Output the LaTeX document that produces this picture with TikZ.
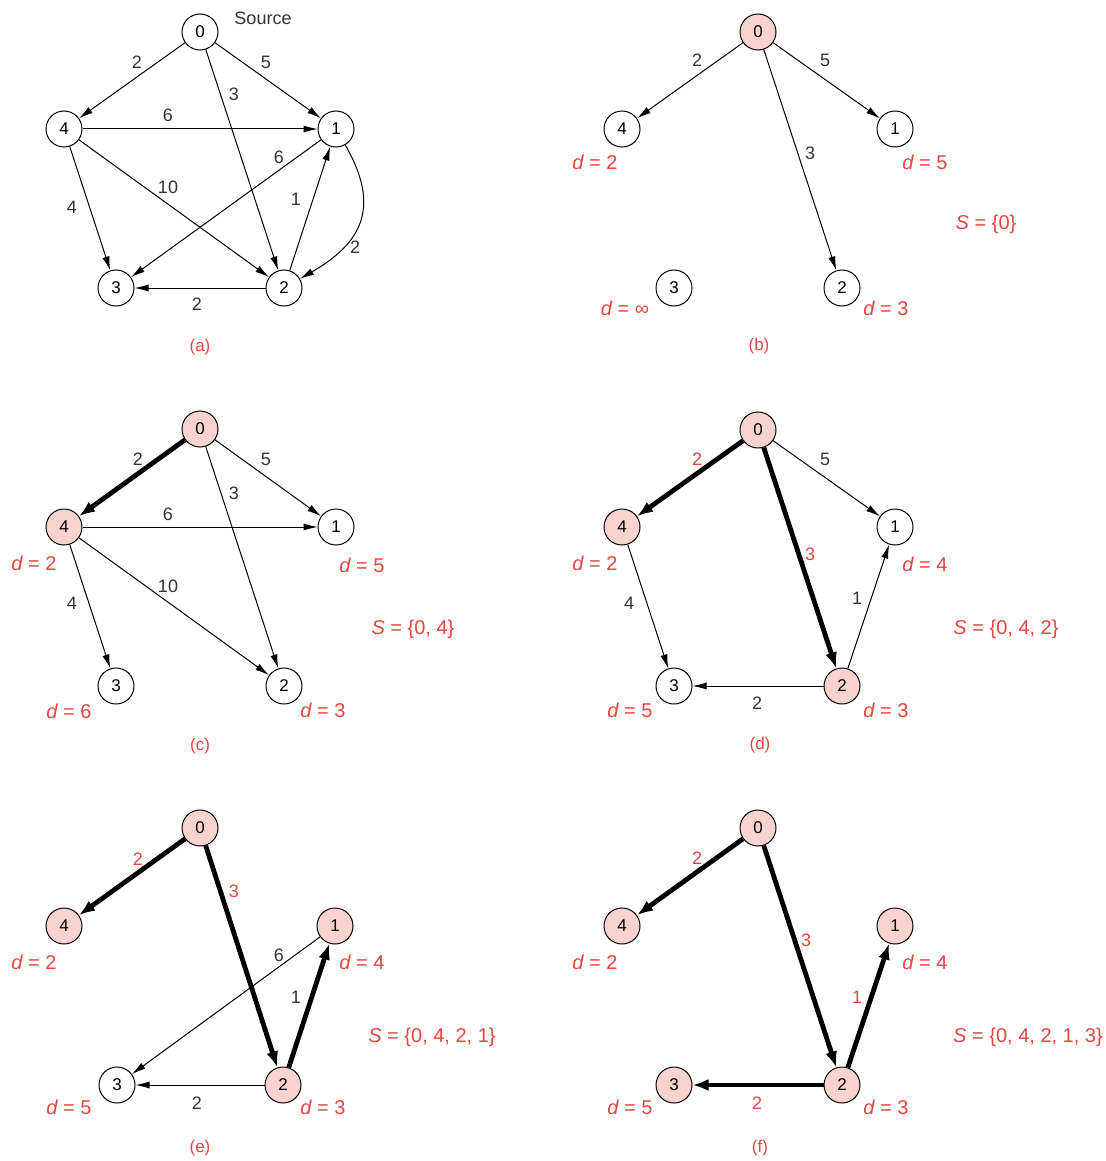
\documentclass[tikz,border=0pt]{standalone}
\usepackage{fontspec}
\setmainfont{Liberation Sans}
\usetikzlibrary{arrows.meta}
\definecolor{dijred}{HTML}{E8453F}
\definecolor{dijfill}{HTML}{FBD3CE}
\definecolor{wtgray}{HTML}{333333}
\newcommand{\dlab}[1]{{\itshape d} = #1}
\newcommand{\slab}[1]{{\itshape S} = \{#1\}}

\begin{document}
\begin{tikzpicture}[x=0.5pt,y=-0.5pt,
  vtx/.style={draw,circle,line width=0.5pt,minimum size=18pt,inner sep=0pt,
              font=\fontsize{8.5}{9}\selectfont},
  done/.style={vtx,fill=dijfill},
  arr/.style={-{Latex[length=7pt,width=3.6pt]},line width=0.5pt},
  tree/.style={-{Latex[length=8pt,width=6pt]},line width=2.4pt},
  wt/.style={font=\fontsize{9}{10}\selectfont,text=wtgray,inner sep=1pt},
  rwt/.style={wt,text=dijred},
  dist/.style={font=\fontsize{10}{11}\selectfont,text=dijred,inner sep=0pt},
  capt/.style={font=\fontsize{8.5}{9}\selectfont,text=dijred}]
\useasboundingbox (0,0) rectangle (1106,1161);

% (a) the graph
\node[vtx] (a0) at (200,32) {0};
\node[vtx] (a4) at (64,129) {4};
\node[vtx] (a1) at (336,129) {1};
\node[vtx] (a3) at (116,288) {3};
\node[vtx] (a2) at (284,288) {2};
\node[wt] (src) at (263,18) {Source};
\draw[arr] (a0) -- (a4);
\draw[arr] (a0) -- (a1);
\draw[arr] (a0) -- (a2);
\draw[arr] (a4) -- (a1);
\draw[arr] (a4) -- (a2);
\draw[arr] (a4) -- (a3);
\draw[arr] (a1) -- (a3);
\draw[arr] (a2) -- (a1);
\draw[arr] (a1) to[out=-60,in=30,looseness=1.3] (a2);
\draw[arr] (a2) -- (a3);
\node[wt] at (137,62) {2};
\node[wt] at (266,62) {5};
\node[wt] at (234,94) {3};
\node[wt] at (168,115) {6};
\node[wt] at (279,157) {6};
\node[wt] at (168,187) {10};
\node[wt] at (72,207) {4};
\node[wt] at (296,199) {1};
\node[wt] at (355,247) {2};
\node[wt] at (197,304) {2};
\node[capt] (capa) at (200,347) {(a)};

% (b) S = {0}
\node[done] (b0) at (758,32) {0};
\node[vtx] (b4) at (622,129) {4};
\node[vtx] (b1) at (895,129) {1};
\node[vtx] (b3) at (674,288) {3};
\node[vtx] (b2) at (842,288) {2};
\draw[arr] (b0) -- (b4);
\draw[arr] (b0) -- (b1);
\draw[arr] (b0) -- (b2);
\node[wt] at (697,60) {2};
\node[wt] at (825,60) {5};
\node[wt] at (810,153) {3};
\node[dist] at (595,162) {\dlab{2}};
\node[dist] at (925,162) {\dlab{5}};
\node[dist] at (625,308) {\dlab{∞}};
\node[dist] at (886,308) {\dlab{3}};
\node[dist] at (986,224) {\slab{0}};
\node[capt] (capb) at (759,346) {(b)};

% (c) S = {0, 4}
\node[done] (c0) at (200,429) {0};
\node[done] (c4) at (64,527) {4};
\node[vtx] (c1) at (336,527) {1};
\node[vtx] (c3) at (116,686) {3};
\node[vtx] (c2) at (284,686) {2};
\draw[tree] (c0) -- (c4);
\draw[arr] (c0) -- (c1);
\draw[arr] (c0) -- (c2);
\draw[arr] (c4) -- (c1);
\draw[arr] (c4) -- (c2);
\draw[arr] (c4) -- (c3);
\node[wt] at (138,459) {2};
\node[wt] at (266,459) {5};
\node[wt] at (234,493) {3};
\node[wt] at (168,514) {6};
\node[wt] at (168,586) {10};
\node[wt] at (72,603) {4};
\node[dist] at (34,563) {\dlab{2}};
\node[dist] at (362,565) {\dlab{5}};
\node[dist] at (69,711) {\dlab{6}};
\node[dist] at (323,710) {\dlab{3}};
\node[dist] at (413,629) {\slab{0, 4}};
\node[capt] (capc) at (200,746) {(c)};

% (d) S = {0, 4, 2}
\node[done] (d0) at (758,430) {0};
\node[done] (d4) at (622,527) {4};
\node[vtx] (d1) at (895,527) {1};
\node[vtx] (d3) at (674,686) {3};
\node[done] (d2) at (842,686) {2};
\draw[tree] (d0) -- (d4);
\draw[tree] (d0) -- (d2);
\draw[arr] (d0) -- (d1);
\draw[arr] (d4) -- (d3);
\draw[arr] (d2) -- (d1);
\draw[arr] (d2) -- (d3);
\node[rwt] at (697,459) {2};
\node[wt] at (825,459) {5};
\node[rwt] at (810,554) {3};
\node[wt] at (629,603) {4};
\node[wt] at (857,598) {1};
\node[wt] at (757,703) {2};
\node[dist] at (595,563) {\dlab{2}};
\node[dist] at (925,564) {\dlab{4}};
\node[dist] at (630,710) {\dlab{5}};
\node[dist] at (886,710) {\dlab{3}};
\node[dist] at (1006,629) {\slab{0, 4, 2}};
\node[capt] (capd) at (760,745) {(d)};

% (e) S = {0, 4, 2, 1}
\node[done] (e0) at (200,828) {0};
\node[done] (e4) at (64,926) {4};
\node[done] (e1) at (335,926) {1};
\node[vtx] (e3) at (117,1085) {3};
\node[done] (e2) at (283,1085) {2};
\draw[tree] (e0) -- (e4);
\draw[tree] (e0) -- (e2);
\draw[tree] (e2) -- (e1);
\draw[arr] (e1) -- (e3);
\draw[arr] (e2) -- (e3);
\node[rwt] at (138,859) {2};
\node[rwt] at (234,891) {3};
\node[wt] at (279,955) {6};
\node[wt] at (296,997) {1};
\node[wt] at (197,1103) {2};
\node[dist] at (34,962) {\dlab{2}};
\node[dist] at (362,962) {\dlab{4}};
\node[dist] at (69,1107) {\dlab{5}};
\node[dist] at (323,1107) {\dlab{3}};
\node[dist] at (432,1037) {\slab{0, 4, 2, 1}};
\node[capt] (cape) at (200,1148) {(e)};

% (f) S = {0, 4, 2, 1, 3}
\node[done] (f0) at (758,828) {0};
\node[done] (f4) at (622,926) {4};
\node[done] (f1) at (895,926) {1};
\node[done] (f3) at (674,1085) {3};
\node[done] (f2) at (842,1085) {2};
\draw[tree] (f0) -- (f4);
\draw[tree] (f0) -- (f2);
\draw[tree] (f2) -- (f1);
\draw[tree] (f2) -- (f3);
\node[rwt] at (697,858) {2};
\node[rwt] at (806,940) {3};
\node[rwt] at (857,997) {1};
\node[rwt] at (757,1103) {2};
\node[dist] at (595,962) {\dlab{2}};
\node[dist] at (925,962) {\dlab{4}};
\node[dist] at (630,1107) {\dlab{5}};
\node[dist] at (886,1107) {\dlab{3}};
\node[dist] at (1028,1037) {\slab{0, 4, 2, 1, 3}};
\node[capt] (capf) at (760,1148) {(f)};
\end{tikzpicture}
\end{document}
